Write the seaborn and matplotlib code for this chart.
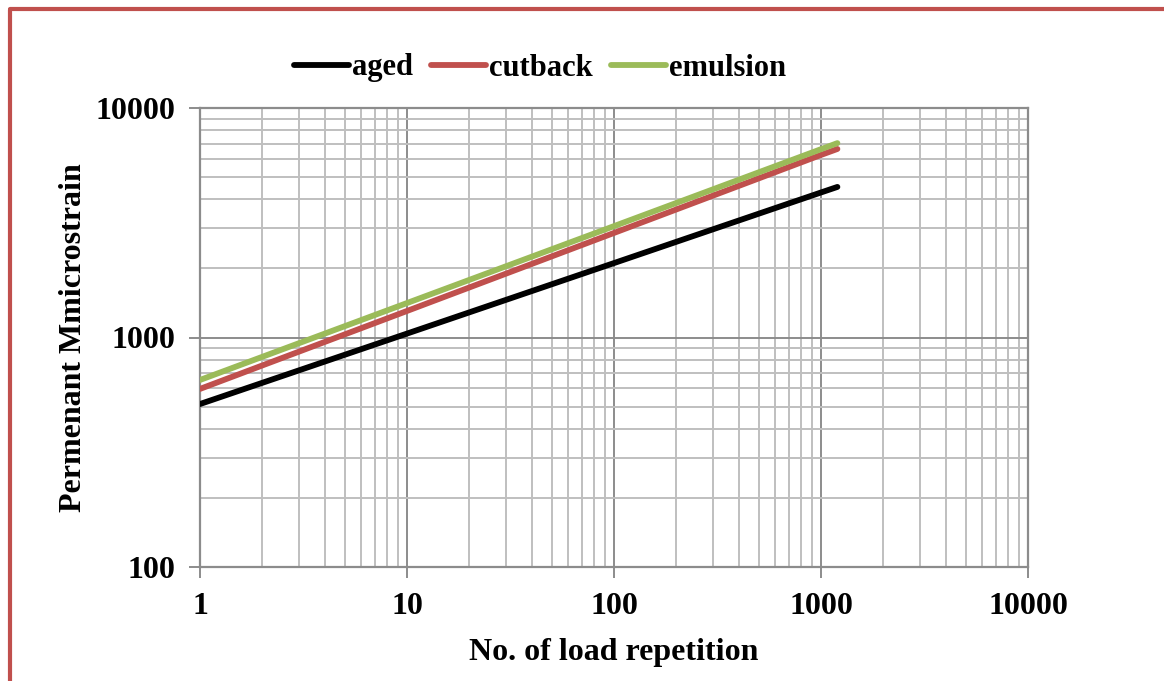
import matplotlib
matplotlib.use("Agg")
import matplotlib.pyplot as plt
import matplotlib.ticker as mticker
from matplotlib.lines import Line2D
import seaborn as sns
import pandas as pd

# data
load_reps = [1, 10, 100, 1000, 1200]
aged = [513, 1040, 2110, 4285, 4530]
cutback = [597, 1305, 2855, 6244, 6630]
emulsion = [653, 1413, 3057, 6616, 7030]
series_names = ["aged", "cutback", "emulsion"]
colors = ["#000000", "#C0504D", "#9BBB59"]

x_ticks = [1, 10, 100, 1000, 10000]
y_ticks = [100, 1000, 10000]

df = pd.concat([
    pd.DataFrame({"x": load_reps, "y": vals, "series": name})
    for name, vals in zip(series_names, [aged, cutback, emulsion])
])

sns.set_theme(style="white")
plt.rcParams["font.family"] = ["Liberation Serif", "DejaVu Serif"]
plt.rcParams["font.weight"] = "bold"
plt.rcParams["text.color"] = "black"
plt.rcParams["axes.labelcolor"] = "black"
plt.rcParams["xtick.color"] = "black"
plt.rcParams["ytick.color"] = "black"

fig = plt.figure(figsize=(11.64, 6.81), dpi=100)
ax = fig.add_axes([200 / 1164, 1 - 567 / 681, (1028 - 200) / 1164, (567 - 108) / 681])

sns.lineplot(data=df, x="x", y="y", hue="series", palette=colors,
             hue_order=series_names, ax=ax, linewidth=4.2, legend=False,
             solid_capstyle="round", zorder=3)

ax.set_xscale("log")
ax.set_yscale("log")
ax.set_xlim(1, 10000)
ax.set_ylim(100, 10000)

ax.xaxis.set_major_locator(mticker.FixedLocator(x_ticks))
ax.yaxis.set_major_locator(mticker.FixedLocator(y_ticks))
ax.xaxis.set_major_formatter(mticker.FixedFormatter([str(t) for t in x_ticks]))
ax.yaxis.set_major_formatter(mticker.FixedFormatter([str(t) for t in y_ticks]))
ax.xaxis.set_minor_locator(mticker.LogLocator(base=10, subs=range(2, 10)))
ax.yaxis.set_minor_locator(mticker.LogLocator(base=10, subs=range(2, 10)))
ax.xaxis.set_minor_formatter(mticker.NullFormatter())
ax.yaxis.set_minor_formatter(mticker.NullFormatter())

ax.grid(True, which="major", color="#8C8C8C", linewidth=1.4, zorder=1)
ax.grid(True, which="minor", color="#BFBFBF", linewidth=1.4, zorder=1)
ax.set_axisbelow(True)

for s in ax.spines.values():
    s.set_color("#8C8C8C")
    s.set_linewidth(1.6)

ax.tick_params(axis="both", which="major", direction="out", length=8, width=1.4,
               color="#8C8C8C", labelcolor="black", labelsize=23, pad=10, bottom=True, left=True)
ax.tick_params(axis="both", which="minor", length=0)
for lab in ax.get_xticklabels() + ax.get_yticklabels():
    lab.set_fontweight("bold")

ax.set_xlabel("No. of load repetition", fontsize=23, fontweight="bold", labelpad=12, color="black")
ax.set_ylabel("Permenant Mmicrostrain", fontsize=23, fontweight="bold", labelpad=5, color="black")

handles = [Line2D([0], [0], color=c, linewidth=4.2, solid_capstyle="round") for c in colors]
leg = fig.legend(handles, series_names, loc="center", bbox_to_anchor=(540 / 1164, 1 - 68 / 681),
                 ncol=3, frameon=False, prop={"family": "Liberation Serif", "weight": "bold", "size": 22},
                 handlelength=1.8, handletextpad=0.1, columnspacing=0.6)
for t in leg.get_texts():
    t.set_color("black")

# red figure border (left and top visible)
fig.add_artist(Line2D([10 / 1164, 10 / 1164], [0, 1 - 10 / 681], transform=fig.transFigure,
                      color="#C0504D", linewidth=3))
fig.add_artist(Line2D([10 / 1164, 1], [1 - 9 / 681, 1 - 9 / 681], transform=fig.transFigure,
                      color="#C0504D", linewidth=3))

fig.savefig("out.png", dpi=100, facecolor="white")
